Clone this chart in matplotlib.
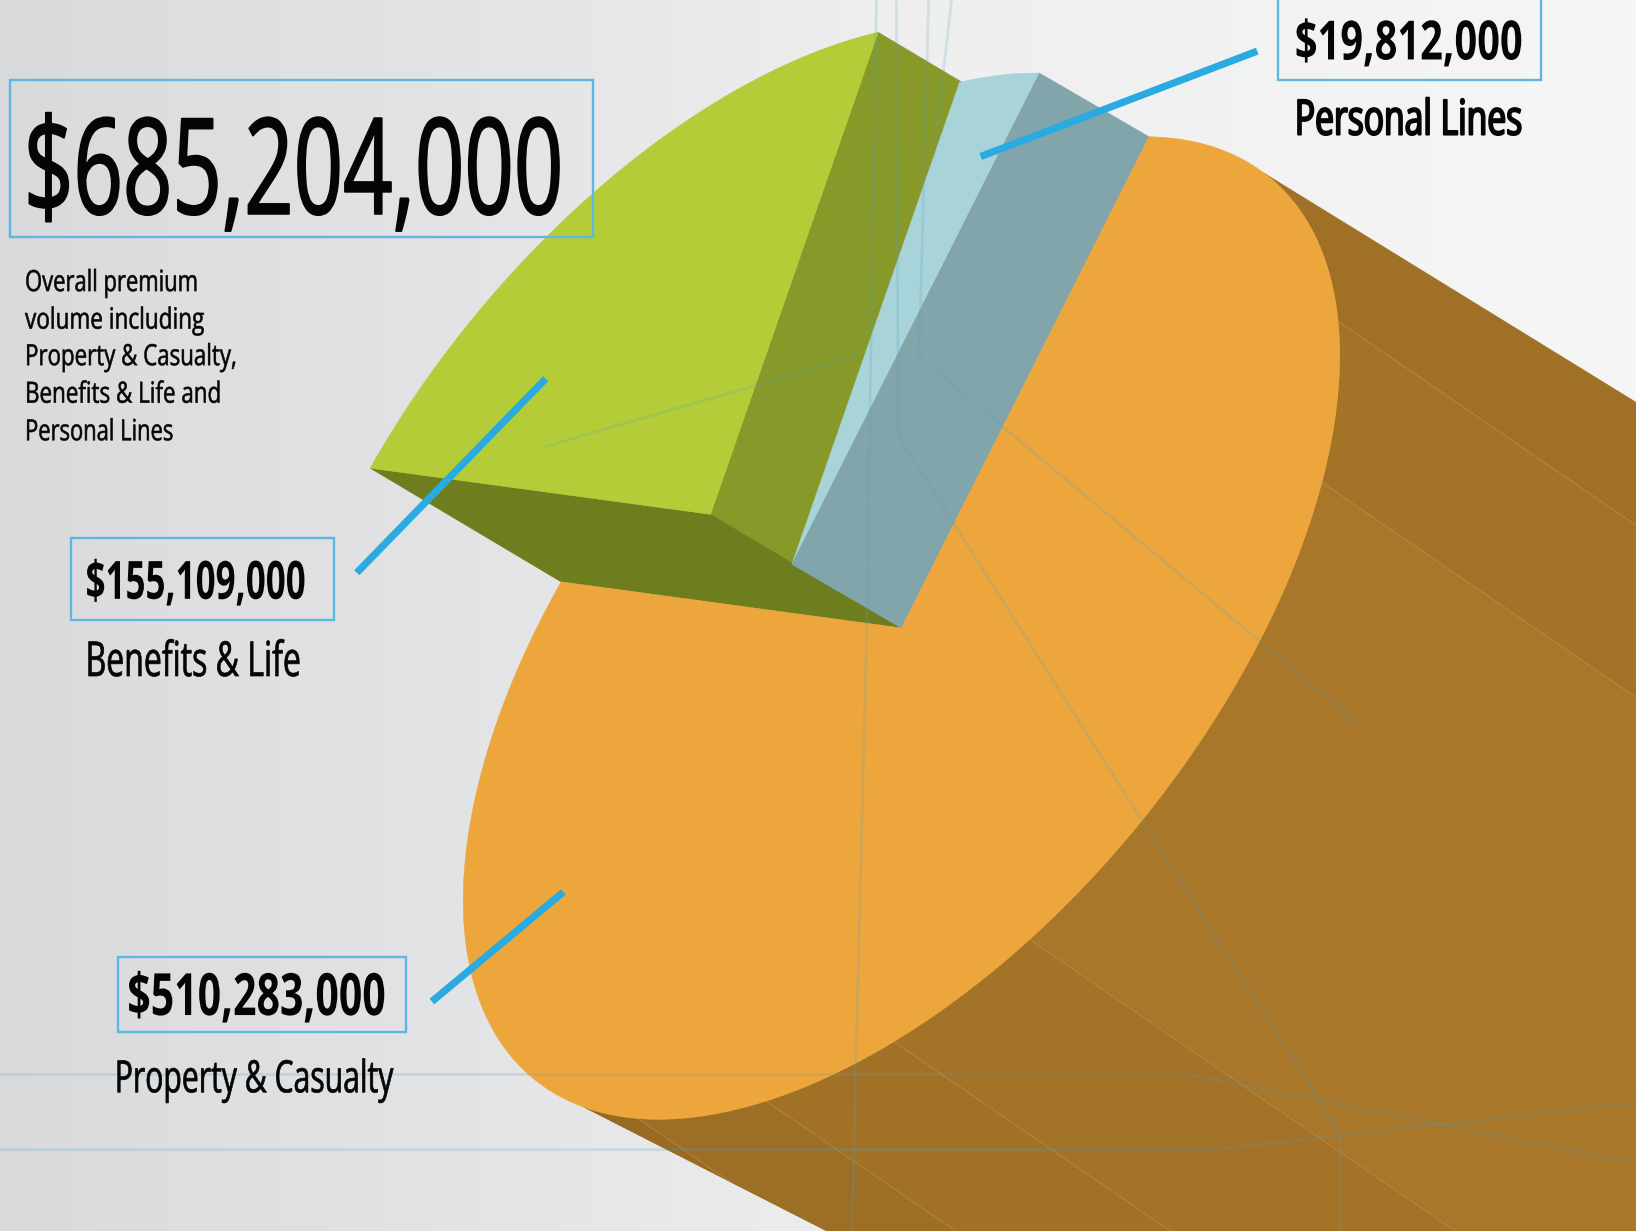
"""Premium volume shown as an extruded pie with raised slices and callouts."""

import matplotlib

matplotlib.use("Agg")

import matplotlib.patheffects as path_effects
import matplotlib.pyplot as plt
import numpy as np
from matplotlib.patches import Polygon, Rectangle
from matplotlib.transforms import Affine2D

# ---------------------------------------------------------------- data
SEGMENTS = ["Property & Casualty", "Benefits & Life", "Personal Lines"]
PREMIUMS = [510_283_000, 155_109_000, 19_812_000]
TOTAL_NOTE = [
    "Overall premium",
    "volume including",
    "Property & Casualty,",
    "Benefits & Life and",
    "Personal Lines",
]

# ---------------------------------------------------------------- palette
ORANGE = "#EDA63C"
SHAFT = "#A07027"
GREEN_TOP = "#B3CC37"
GREEN_SIDE = "#879A29"
GREEN_UNDER = "#6E7E1E"
BLUE_TOP = "#A8D3D9"
BLUE_SIDE = "#82A4AB"
CALLOUT = "#29ABE2"
BOX_EDGE = "#5CB8E0"
INK = "#050505"
GHOST = "#5A9FBE"

# ---------------------------------------------------------------- projection
# The pie plane maps to an ellipse on the page; all lengths are in page units.
CENTER = np.array([864.0, 602.0])
PLANE = np.array([[420.0, 0.0], [-261.0, 392.0]])
START_DEG = -55.6
# Slices lose and gain sweep toward the viewer, as in a perspective view.
WARP_DEG = 18.5
WARP_PHASE = 58.3
# How far each slice sits back along the extrusion.
LIFT = [np.zeros(2), np.array([-183.0, -109.0]), np.array([-105.0, -61.0])]

SEAM_DEG = [-5, 16.4, 73, 91, 108, 127, 137]
STRIP_SHADES = ["#A37428", "#A87729", "#A37328", "#A17126", "#9D6E25", "#996A22"]
SEAM_DIR = np.array([1.0, 0.685])


def warp(theta):
    rad = np.radians(theta - WARP_PHASE)
    return START_DEG + theta + WARP_DEG * (np.sin(rad) + np.sin(np.radians(WARP_PHASE)))


def rim(t_deg, lift=np.zeros(2)):
    t = np.radians(np.atleast_1d(t_deg))
    unit = np.column_stack([np.cos(t), np.sin(t)])
    return unit @ PLANE.T + CENTER + lift


class Squeeze(path_effects.AbstractPathEffect):
    """Narrow a text run horizontally around its left edge, optionally thickening it."""

    def __init__(self, factor, x0, stroke=0.0):
        super().__init__()
        self.factor = factor
        self.x0 = x0
        self.stroke = stroke

    def draw_path(self, renderer, gc, tpath, affine, rgbFace=None):
        squeeze = Affine2D().translate(-self.x0, 0).scale(self.factor, 1).translate(self.x0, 0)
        if self.stroke:
            gc0 = renderer.new_gc()
            gc0.copy_properties(gc)
            gc0.set_linewidth(self.stroke)
            gc0.set_foreground(INK)
            renderer.draw_path(gc0, tpath, affine + squeeze, rgbFace)
            gc0.restore()
        else:
            renderer.draw_path(gc, tpath, affine + squeeze, rgbFace)


fig = plt.figure(figsize=(16.36, 12.31), dpi=100)
ax = fig.add_axes([0, 0, 1, 1])
ax.set_xlim(0, 1568)
ax.set_ylim(1180, 0)
ax.axis("off")

# Soft grey-to-white page background, slightly cool on the left.
ramp_x = np.linspace(0, 1, 400)
stops = [0, 0.1, 0.28, 0.55, 1]
page = np.column_stack(
    [
        np.interp(ramp_x, stops, [0.845, 0.865, 0.888, 0.935, 0.965]),
        np.interp(ramp_x, stops, [0.852, 0.870, 0.892, 0.936, 0.965]),
        np.interp(ramp_x, stops, [0.860, 0.878, 0.898, 0.938, 0.965]),
    ]
)
ax.imshow(page[np.newaxis, :, :], extent=(0, 1568, 1180, 0), aspect="auto", zorder=0)


def face(points, color, zorder):
    patch = Polygon(points, closed=True, facecolor=color, edgecolor=color, linewidth=0.4, zorder=zorder)
    ax.add_patch(patch)
    return patch


# Slice boundaries come straight from the premium values.
sweeps = np.array(PREMIUMS) / sum(PREMIUMS) * 360
edges = warp(np.concatenate([[0], np.cumsum(sweeps)]))
apex = CENTER

# Raised green slice: two walls, then its top.
g0, g1 = edges[1], edges[2]
face(np.vstack([rim(g1, LIFT[1]), apex + LIFT[1], apex, rim(g1)]), GREEN_SIDE, 2)
face(np.vstack([rim(g0, LIFT[1]), apex + LIFT[1], apex, rim(g0)]), GREEN_UNDER, 2)
face(np.vstack([apex + LIFT[1], rim(np.linspace(g0, g1, 80), LIFT[1])]), GREEN_TOP, 3)

# Raised blue slice: top first, the wall facing the orange slice over it.
b0, b1 = edges[2], edges[3]
face(np.vstack([apex + LIFT[2], rim(np.linspace(b0, b1, 30), LIFT[2])]), BLUE_TOP, 4)
face(np.vstack([rim(b1, LIFT[2]), apex + LIFT[2], apex, rim(b1)]), BLUE_SIDE, 5)

# Orange slice extruded past the page edge.
TOP_DIR = np.array([1.0, 0.616])
BOTTOM_DIR = np.array([1.0, 0.51])
tangent_top, tangent_bottom = -34.0, 136.5
shaft_rim = rim(np.linspace(tangent_top, tangent_bottom, 200))
shaft = face(
    np.vstack([shaft_rim, shaft_rim[-1] + 1200 * BOTTOM_DIR, shaft_rim[0] + 1200 * TOP_DIR]),
    SHAFT,
    6,
)
for t0, t1, shade in zip(SEAM_DEG[:-1], SEAM_DEG[1:], STRIP_SHADES):
    arc = rim(np.linspace(t0, t1, 40))
    strip = face(np.vstack([arc, arc[::-1] + 2000 * SEAM_DIR]), shade, 6.1)
    strip.set_clip_path(shaft)
for t in SEAM_DEG[:-1]:
    start = rim(t)[0]
    end = start + 2000 * SEAM_DIR
    seam, = ax.plot([start[0], end[0]], [start[1], end[1]], color="#C9A468", lw=0.5, alpha=0.6, zorder=6.2)
    seam.set_clip_path(shaft)

o0, o1 = edges[0], edges[1]
face(np.vstack([apex, rim(np.linspace(o0, o1, 300))]), ORANGE, 7)

# Faint construction lines that run through the whole artwork.
GHOST_LINES = [
    ([840, 830, 820, 817], [0, 632, 1030, 1180]),
    ([859, 861, 1082, 1264, 1285, 1285], [0, 418, 767, 1054, 1090, 1180]),
    ([890, 881, 1301], [0, 342, 693]),
    ([912, 895], [0, 150]),
    ([523, 825], [428, 340]),
    ([0, 1139, 1568], [1030, 1030, 1115]),
    ([0, 1163, 1568], [1102, 1102, 1057]),
]
for xs, ys in GHOST_LINES:
    ax.plot(xs, ys, color=GHOST, lw=2.0, alpha=0.2, solid_joinstyle="round", zorder=8)

# Callout leaders.
LEADERS = [
    ([414, 540], [960, 855]),
    ([342, 523], [549, 363]),
    ([940, 1205], [150, 49]),
]
for xs, ys in LEADERS:
    ax.plot(xs, ys, color=CALLOUT, lw=5.2, solid_capstyle="butt", zorder=9)

# Value boxes.
BOXES = [
    (10, 77, 558, 150),
    (113, 917, 276, 72),
    (68, 516, 252, 78),
    (1225, -5, 252, 82),
]
for x, y, w, h in BOXES:
    ax.add_patch(Rectangle((x, y), w, h, fill=False, edgecolor=BOX_EDGE, linewidth=1.7, zorder=10))

renderer = fig.canvas.get_renderer()


def put_text(x, baseline, text, size, width, weight="normal", stroke=0.0):
    artist = ax.text(
        x,
        baseline,
        text,
        family="Open Sans",
        fontsize=size,
        fontweight=weight,
        color=INK,
        ha="left",
        va="baseline",
        zorder=11,
    )
    full = artist.get_window_extent(renderer).width
    x_px = ax.transData.transform((x, baseline))[0]
    target = ax.transData.transform((x + width, baseline))[0] - x_px
    artist.set_path_effects([Squeeze(target / full, x_px, stroke)])
    return artist


put_text(23, 205, f"${sum(PREMIUMS):,}", 96, 517, stroke=1.3)

NOTE_BASELINES = [279, 315, 350, 386, 422]
NOTE_WIDTHS = [166, 172, 203, 188, 142]
for line, base, width in zip(TOTAL_NOTE, NOTE_BASELINES, NOTE_WIDTHS):
    put_text(24, base, line, 21, width, stroke=0.4)

put_text(122, 973, f"${PREMIUMS[0]:,}", 42, 248, "bold")
put_text(110, 1047, SEGMENTS[0], 32, 267, stroke=0.5)
put_text(82, 574, f"${PREMIUMS[1]:,}", 38, 211, "bold")
put_text(82, 648, SEGMENTS[1], 34.7, 206, stroke=0.5)
put_text(1241, 57, f"${PREMIUMS[2]:,}", 39, 218, "bold")
put_text(1241, 129, SEGMENTS[2], 35, 218, stroke=1.4)

fig.savefig("out.png", dpi=100)
plt.close(fig)
